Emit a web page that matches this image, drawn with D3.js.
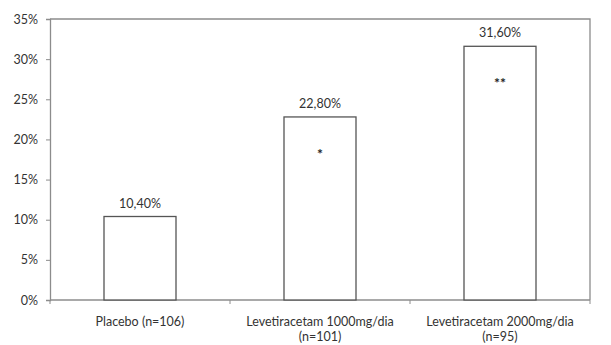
<!DOCTYPE html>
<html><head><meta charset="utf-8">
<script src="https://cdn.jsdelivr.net/npm/d3@7"></script>
<style>body{margin:0;background:#fff}svg{display:block}</style>
</head><body>
<svg id="c" width="611" height="345"></svg>
<script>
const categories = [["Placebo (n=106)"], ["Levetiracetam 1000mg/dia", "(n=101)"], ["Levetiracetam 2000mg/dia", "(n=95)"]];
const values = [10.4, 22.8, 31.6];
const valueLabels = ["10,40%", "22,80%", "31,60%"];
const marks = ["", "*", "**"];
const yTicks = [0, 5, 10, 15, 20, 25, 30, 35];

const svg = d3.select("#c");
const m = {l: 50, r: 21, t: 19, b: 45};
const W = 611, H = 345;
const font = "Lato, 'Open Sans', sans-serif";
const fs = 12.5;
const x = d3.scaleBand().domain(d3.range(categories.length)).range([m.l, W - m.r]).paddingInner(0.6).paddingOuter(0.3);
const xb = d3.scaleBand().domain(d3.range(categories.length)).range([m.l, W - m.r]);
const y = d3.scaleLinear().domain([0, 35]).range([H - m.b, m.t]);
const axisColor = "#8c8c8c";
const textColor = "#333";

// frame (top and right)
svg.append("path").attr("d", `M${m.l},${y(35)}H${W - m.r}V${y(0)}`).attr("fill", "none").attr("stroke", axisColor).attr("stroke-width", 1.3);

// y axis
const ya = svg.append("g").attr("transform", `translate(${m.l},0)`)
  .call(d3.axisLeft(y).tickValues(yTicks).tickSize(4).tickPadding(8).tickFormat(d => d + "%"));
ya.select(".domain").attr("stroke", axisColor).attr("stroke-width", 1.3);
ya.selectAll(".tick line").attr("stroke", axisColor);
ya.selectAll("text").attr("font-family", font).attr("font-size", fs).attr("fill", textColor);

// x axis
const xg = svg.append("g").attr("transform", `translate(0,${y(0)})`);
xg.append("line").attr("x1", m.l).attr("x2", W - m.r).attr("stroke", axisColor).attr("stroke-width", 1.3);
xg.selectAll("line.t").data(d3.range(categories.length + 1)).join("line")
  .attr("x1", i => i < categories.length ? xb(i) : xb(i - 1) + xb.bandwidth())
  .attr("x2", i => i < categories.length ? xb(i) : xb(i - 1) + xb.bandwidth())
  .attr("y1", 0).attr("y2", 4).attr("stroke", axisColor);
categories.forEach((lines, i) => {
  lines.forEach((t, j) => {
    xg.append("text").attr("x", xb(i) + xb.bandwidth() / 2).attr("y", 26 + j * 15)
      .attr("text-anchor", "middle").attr("font-family", font).attr("font-size", fs).attr("fill", textColor).text(t);
  });
});

// bars
svg.selectAll("rect.bar").data(values).join("rect").attr("class", "bar")
  .attr("x", (d, i) => x(i)).attr("width", x.bandwidth())
  .attr("y", d => y(d)).attr("height", d => y(0) - y(d))
  .attr("fill", "#fff").attr("stroke", "#555").attr("stroke-width", 1.3);

// value labels
svg.selectAll("text.vl").data(values).join("text").attr("class", "vl")
  .attr("x", (d, i) => x(i) + x.bandwidth() / 2).attr("y", d => y(d) - 9)
  .attr("text-anchor", "middle").attr("font-family", font).attr("font-size", fs).attr("fill", textColor)
  .text((d, i) => valueLabels[i]);

// significance marks
svg.selectAll("text.sig").data(values).join("text").attr("class", "sig")
  .attr("x", (d, i) => x(i) + x.bandwidth() / 2).attr("y", d => y(d) + 42)
  .attr("text-anchor", "middle").attr("font-family", font).attr("font-size", 14).attr("font-weight", "bold").attr("fill", "#222")
  .text((d, i) => marks[i]);
</script>
</body></html>
